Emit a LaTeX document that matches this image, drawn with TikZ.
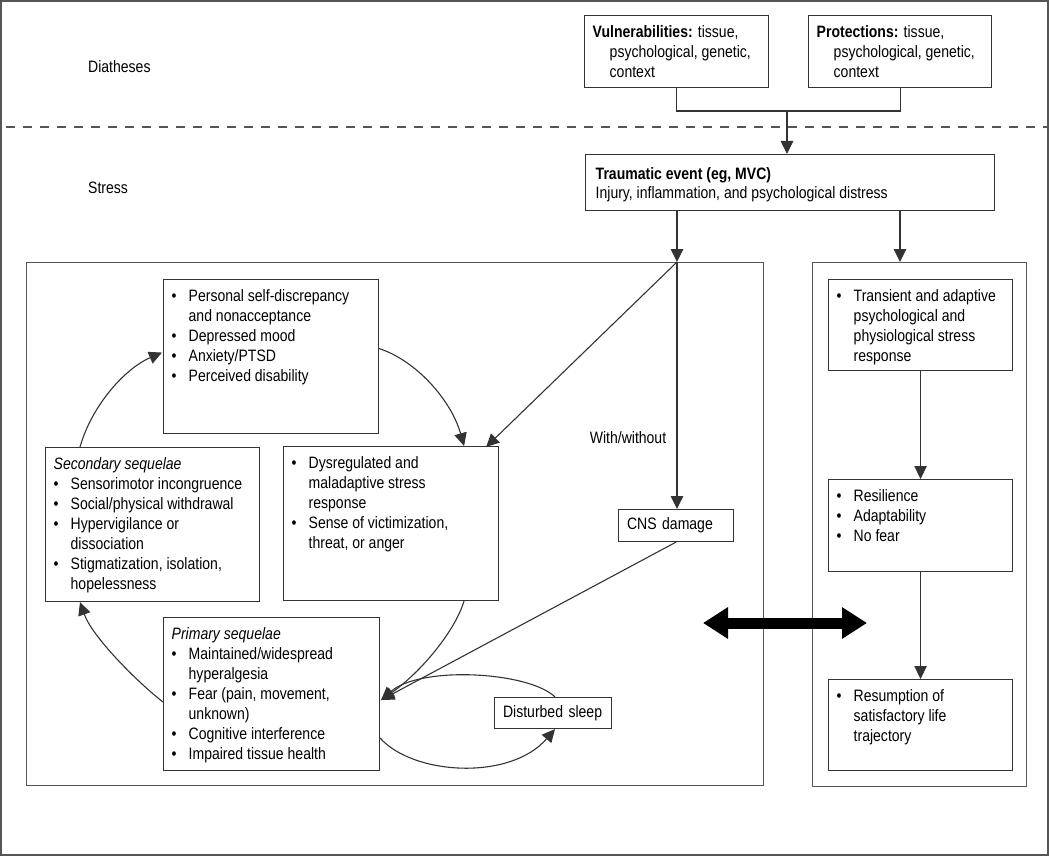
\documentclass[tikz,border=0pt]{standalone}
\usepackage{fontspec}
\setmainfont{Liberation Sans}[FakeStretch=0.85]
\usepackage{tikz}
\usetikzlibrary{arrows.meta,calc,positioning}
\definecolor{linegray}{HTML}{333333}
\definecolor{framegray}{HTML}{555555}
\newcommand{\bu}{\makebox[17pt][l]{\textbullet}}
\newcommand{\bhang}{\hspace*{17pt}}

\begin{document}
\begin{tikzpicture}[x=1pt,y=-1pt,
    font=\fontsize{16.5pt}{20pt}\selectfont,
    box/.style={draw=linegray, line width=1.1pt, anchor=north west, inner sep=0pt},
    bigbox/.style={draw=framegray, line width=1.3pt, anchor=north west, inner sep=0pt},
    txt/.style={anchor=north west, align=left, inner xsep=8.5pt, inner ysep=10.5pt, text=black},
    conn/.style={draw=linegray, line width=1.1pt},
    arr/.style={conn, -{Triangle[length=13pt,width=12.5pt]}},
    dblarr/.style={line width=11pt, {Triangle[length=25pt,width=30pt]}-{Triangle[length=25pt,width=30pt]}}]
            \useasboundingbox (0,0) rectangle (1050,856);
            %Frame
            \draw[framegray, line width=1.3pt] (1,1) rectangle (1048,855);
            \draw[framegray, line width=1.3pt, dash pattern=on 9pt off 8pt] (6,127) -- (1048,127);
            \node[anchor=west, inner sep=0pt] (dia) at (88,67) {Diatheses};
            \node[anchor=west, inner sep=0pt] (str) at (88,188) {Stress};
            %Diatheses
            \node[box, minimum width=184pt, minimum height=72pt] (vul) at (584,15) {};
            \node[txt] (vul-t) at (vul.north west) {\textbf{Vulnerabilities:} tissue,\\\bhang psychological, genetic,\\\bhang context};
            \node[box, minimum width=183pt, minimum height=72pt] (pro) at (808,15) {};
            \node[txt] (pro-t) at (pro.north west) {\textbf{Protections:} tissue,\\\bhang psychological, genetic,\\\bhang context};
            \coordinate (join) at (787,111);
            \draw[conn] (vul.south) |- (join) -| (pro.south);
            %Stress
            \node[box, minimum width=409pt, minimum height=56pt] (trauma) at (585,154) {};
            \node[txt, inner xsep=10.5pt, inner ysep=13pt] (trauma-t) at (trauma.north west) {\textbf{Traumatic event (eg, MVC)}\\[-1pt]Injury, inflammation, and psychological distress};
            \draw[arr] (join) -- (join |- trauma.north);
            %Outer boxes
            \node[bigbox, minimum width=737pt, minimum height=523pt] (left) at (26,262) {};
            \node[bigbox, minimum width=214pt, minimum height=524pt] (right) at (812,262) {};
            \coordinate (fork) at (677,262);
            \coordinate (rtop) at (900,262);
            \draw[arr] (fork |- trauma.south) -- (fork);
            \draw[arr] (rtop |- trauma.south) -- (rtop);
            %Cycle
            \node[box, minimum width=215pt, minimum height=154pt] (pers) at (163,279) {};
            \node[txt] (pers-t) at (pers.north west) {\bu Personal self-discrepancy\\\bhang and nonacceptance\\\bu Depressed mood\\\bu Anxiety/PTSD\\\bu Perceived disability};
            \node[box, minimum width=214pt, minimum height=154pt] (sec) at (45,447) {};
            \node[txt] (sec-t) at (sec.north west) {\textit{Secondary sequelae}\\\bu Sensorimotor incongruence\\\bu Social/physical withdrawal\\\bu Hypervigilance or\\\bhang dissociation\\\bu Stigmatization, isolation,\\\bhang hopelessness};
            \node[box, minimum width=215pt, minimum height=154pt] (dys) at (283,446) {};
            \node[txt] (dys-t) at (dys.north west) {\bu Dysregulated and\\\bhang maladaptive stress\\\bhang response\\\bu Sense of victimization,\\\bhang threat, or anger};
            \node[box, minimum width=216pt, minimum height=153pt] (prim) at (163,617) {};
            \node[txt] (prim-t) at (prim.north west) {\textit{Primary sequelae}\\\bu Maintained/widespread\\\bhang hyperalgesia\\\bu Fear (pain, movement,\\\bhang unknown)\\\bu Cognitive interference\\\bu Impaired tissue health};
            \node[box, minimum height=32pt, text width=98pt, inner xsep=8.5pt, align=left] (cns) at (618,509) {CNS damage};
            \node[box, minimum height=31pt, text width=100pt, inner xsep=8.5pt, align=left] (sleep) at (494,697) {Disturbed sleep};
            \node (with) at (628,438) {With/without};
            %Adaptive path
            \node[box, minimum width=184pt, minimum height=91pt] (trans) at (828,279) {};
            \node[txt] (trans-t) at (trans.north west) {\bu Transient and adaptive\\\bhang psychological and\\\bhang physiological stress\\\bhang response};
            \node[box, minimum width=184pt, minimum height=92pt] (resil) at (828,479) {};
            \node[txt] (resil-t) at (resil.north west) {\bu Resilience\\\bu Adaptability\\\bu No fear};
            \node[box, minimum width=184pt, minimum height=91pt] (resum) at (828,679) {};
            \node[txt] (resum-t) at (resum.north west) {\bu Resumption of\\\bhang satisfactory life\\\bhang trajectory};
            \draw[arr] (trans.south) -- (resil.north);
            \draw[arr] (resil.south) -- (resum.north);
            %Connectors
            \coordinate (pin) at ($(prim.east)+(1,6)$);
            \draw[arr] (fork) -- (fork |- cns.north);
            \draw[arr] (fork) -- ($(dys.north east)+(-13,1)$);
            \draw[arr] ($(pers.east)+(0,-8)$) .. controls +(37,12) and +(-13,-46) .. ($(dys.north east)+(-35,0)$);
            \draw[arr] ($(sec.north west)+(35,0)$) .. controls +(12,-42) and +(-37,16) .. ($(pers.west)+(-1,-4)$);
            \draw[arr] ($(prim.west)+(0,8)$) .. controls +(-28,-22) and +(12,34) .. ($(sec.south west)+(35,0)$);
            \draw[arr] ($(dys.south west)+(181,0)$) .. controls +(-9,30) and +(40,-28) .. (pin);
            \draw[arr] (cns.south) -- (pin);
            \draw[arr] ($(sleep.north west)+(61,0)$) .. controls +(-25,-25) and +(40,-35) .. (pin);
            \draw[arr] ($(prim.east)+(0,44)$) .. controls +(33,37) and +(-45,52) .. ($(sleep.south west)+(61,0)$);
            %Double arrow
            \coordinate (dl) at (703,623);
            \coordinate (dr) at (867,623);
            \draw[dblarr] (dl) -- (dr);
\end{tikzpicture}
\end{document}
